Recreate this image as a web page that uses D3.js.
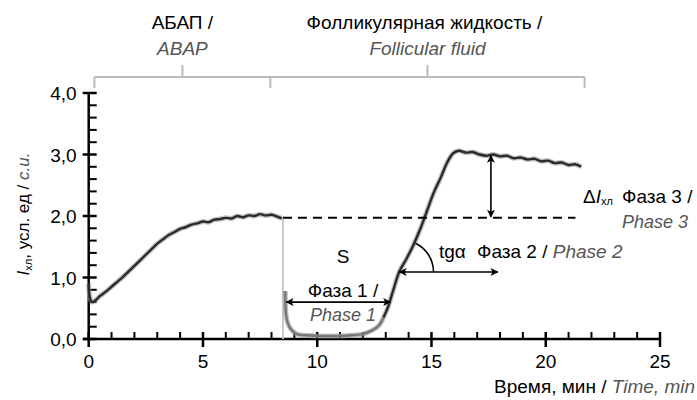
<!DOCTYPE html>
<html>
<head>
<meta charset="utf-8">
<script src="https://d3js.org/d3.v7.min.js"></script>
<style>
  body { margin: 0; background: #fff; }
  text { font-family: "Liberation Sans", Arial, sans-serif; }
</style>
</head>
<body>
<div id="chart"></div>
<script>
// ---------------------------//
//       DATA                 //
// ---------------------------//

// ABAP part of the record (time in min, chemiluminescence in c.u.)
var abapTime  = [0, 0.05, 0.15, 0.3, 0.5, 0.75, 1.0, 1.25, 1.5, 1.75, 2.0, 2.25, 2.5, 2.75, 3.0, 3.25, 3.5, 3.75, 4.0, 4.25, 4.5, 4.75, 5.0, 5.25, 5.5, 5.75, 6.0, 6.25, 6.5, 6.75, 7.0, 7.25, 7.5, 7.75, 8.0, 8.25, 8.45];
var abapValue = [0.9, 0.68, 0.6, 0.63, 0.7, 0.77, 0.85, 0.93, 1.01, 1.1, 1.19, 1.28, 1.37, 1.46, 1.55, 1.62, 1.69, 1.74, 1.79, 1.82, 1.86, 1.88, 1.91, 1.9, 1.94, 1.95, 1.97, 1.96, 2.0, 1.98, 2.01, 2.0, 2.03, 2.01, 2.02, 1.99, 1.96];

// follicular fluid part: phase 1 trough
var troughTime  = [8.6, 8.63, 8.7, 8.85, 9.1, 9.5, 10, 10.5, 11, 11.5, 12, 12.4, 12.7, 12.9];
var troughValue = [0.78, 0.42, 0.27, 0.16, 0.08, 0.06, 0.05, 0.05, 0.05, 0.06, 0.08, 0.14, 0.22, 0.35];

// follicular fluid part: phase 2 rise and phase 3 plateau
var riseTime  = [12.9, 13.1, 13.3, 13.6, 13.9, 14.2, 14.5, 14.8, 15.1, 15.4, 15.7, 15.95, 16.2, 16.5, 16.8, 17.1, 17.4, 17.7, 18.0, 18.3, 18.6, 18.9, 19.2, 19.5, 19.8, 20.1, 20.4, 20.7, 21.0, 21.3, 21.55];
var riseValue = [0.35, 0.52, 0.76, 1.1, 1.3, 1.52, 1.78, 2.08, 2.38, 2.62, 2.88, 3.02, 3.06, 3.03, 3.04, 3.0, 2.98, 3.0, 2.97, 2.98, 2.94, 2.95, 2.92, 2.93, 2.89, 2.9, 2.86, 2.87, 2.83, 2.84, 2.8];

// tick labels
var xTicks = [0, 5, 10, 15, 20, 25];
var yTicks = [0, 1, 2, 3, 4];

// annotation values (data units)
var dropTime = 8.5;          // switch from ABAP to fluid
var baseLevel = 1.97;        // dashed level
var baseLevelEnd = 21.3;
var deltaTime = 17.6;        // delta I arrow
var deltaTop = 3.0;
var phase1 = [8.65, 13.2], phase1Level = 0.6;
var phase2 = [13.6, 17.9], phase2Level = 1.09;
var bracketStops = [0.25, 7.95, 21.7];

// ---------------------------//
//       SVG  AND SCALE       //
// ---------------------------//
var W = 697, H = 400;
var svg = d3.select("#chart")
  .append("svg")
  .attr("width", W)
  .attr("height", H);

var x = d3.scaleLinear().domain([0, 25]).range([88.7, 660]);
var y = d3.scaleLinear().domain([0, 4]).range([339, 93]);

var gray = "#555";
var fs = "19px";

// arrow marker
var defs = svg.append("defs");
defs.append("marker")
  .attr("id", "arr")
  .attr("viewBox", "0 0 10 10")
  .attr("refX", 9).attr("refY", 5)
  .attr("markerWidth", 10).attr("markerHeight", 8)
  .attr("markerUnits", "userSpaceOnUse")
  .attr("orient", "auto-start-reverse")
  .append("path")
  .attr("d", "M0,0 L10,5 L0,10 L2.5,5 Z")
  .attr("fill", "#000");

defs.append("filter").attr("id", "soft")
  .append("feGaussianBlur").attr("stdDeviation", 0.7);

// ---------------------------//
//       AXES                 //
// ---------------------------//
var xAxisG = svg.append("g").attr("transform", "translate(0," + y(0) + ")");
xAxisG.append("line")
  .attr("x1", 83).attr("x2", x(25))
  .attr("stroke", "#000").attr("stroke-width", 2.5);
xAxisG.selectAll(".minor")
  .data(d3.range(1, 26).filter(function(d){ return d % 5 != 0; }))
  .enter().append("line")
  .attr("x1", function(d){ return x(d); }).attr("x2", function(d){ return x(d); })
  .attr("y1", -7).attr("y2", 0)
  .attr("stroke", "#000").attr("stroke-width", 2);
xAxisG.selectAll(".major")
  .data(xTicks)
  .enter().append("line")
  .attr("x1", function(d){ return x(d); }).attr("x2", function(d){ return x(d); })
  .attr("y1", -7).attr("y2", 8)
  .attr("stroke", "#000").attr("stroke-width", 2.5);
xAxisG.selectAll(".lab")
  .data(xTicks)
  .enter().append("text")
  .attr("x", function(d){ return x(d); })
  .attr("y", 29)
  .attr("text-anchor", "middle")
  .attr("font-size", fs)
  .text(function(d){ return d; });

var yAxisG = svg.append("g").attr("transform", "translate(" + x(0) + ",0)");
yAxisG.append("line")
  .attr("y1", y(0) + 1).attr("y2", y(4))
  .attr("stroke", "#000").attr("stroke-width", 2.5);
yAxisG.selectAll(".minor")
  .data(d3.range(1, 20).filter(function(d){ return d % 5 != 0; }).map(function(d){ return d / 5; }))
  .enter().append("line")
  .attr("y1", function(d){ return y(d); }).attr("y2", function(d){ return y(d); })
  .attr("x1", 0).attr("x2", 8)
  .attr("stroke", "#000").attr("stroke-width", 2);
yAxisG.selectAll(".major")
  .data(yTicks)
  .enter().append("line")
  .attr("y1", function(d){ return y(d); }).attr("y2", function(d){ return y(d); })
  .attr("x1", -6).attr("x2", 8)
  .attr("stroke", "#000").attr("stroke-width", 2.5);
yAxisG.selectAll(".lab")
  .data(yTicks)
  .enter().append("text")
  .attr("x", -12)
  .attr("y", function(d){ return y(d) + 7; })
  .attr("text-anchor", "end")
  .attr("font-size", fs)
  .text(function(d){ return d3.format(".1f")(d).replace(".", ","); });

// x label (kept inside the right edge)
var xl = svg.append("text")
  .attr("x", 695).attr("y", 393)
  .attr("text-anchor", "end")
  .attr("font-size", fs);
xl.append("tspan").text("Время, мин / ");
xl.append("tspan").attr("font-style", "italic").attr("fill", gray).text("Time, min");

// y label
var yl = svg.append("text")
  .attr("transform", "translate(29,214) rotate(-90)")
  .attr("text-anchor", "middle")
  .attr("font-size", "17px");
yl.append("tspan").attr("font-style", "italic").text("I");
yl.append("tspan").attr("font-size", "11px").attr("dy", 3).text("хл");
yl.append("tspan").attr("dy", -3).text(", усл. ед / ");
yl.append("tspan").attr("font-style", "italic").attr("fill", gray).text("c.u.");

// ---------------------------//
//       TOP BRACKET          //
// ---------------------------//
var bc = "#bbb", by = 77;
svg.append("line")
  .attr("x1", x(bracketStops[0])).attr("x2", x(bracketStops[2]))
  .attr("y1", by).attr("y2", by)
  .attr("stroke", bc).attr("stroke-width", 2);
svg.selectAll(".bdown")
  .data(bracketStops)
  .enter().append("line")
  .attr("x1", function(d){ return x(d); }).attr("x2", function(d){ return x(d); })
  .attr("y1", by).attr("y2", by + 11)
  .attr("stroke", bc).attr("stroke-width", 2);
svg.selectAll(".bup")
  .data([(bracketStops[0] + bracketStops[1]) / 2, (bracketStops[1] + bracketStops[2]) / 2])
  .enter().append("line")
  .attr("x1", function(d){ return x(d); }).attr("x2", function(d){ return x(d); })
  .attr("y1", by).attr("y2", by - 12)
  .attr("stroke", bc).attr("stroke-width", 2);

var mid1 = x((bracketStops[0] + bracketStops[1]) / 2);
var mid2 = x((bracketStops[1] + bracketStops[2]) / 2);
svg.append("text").attr("x", mid1).attr("y", 29).attr("text-anchor", "middle")
  .attr("font-size", fs).text("АБАП /");
svg.append("text").attr("x", mid1).attr("y", 55).attr("text-anchor", "middle")
  .attr("font-size", fs).attr("font-style", "italic").attr("fill", gray).text("ABAP");
svg.append("text").attr("x", mid2 - 3).attr("y", 29).attr("text-anchor", "middle")
  .attr("font-size", fs).text("Фолликулярная жидкость /");
svg.append("text").attr("x", mid2).attr("y", 55).attr("text-anchor", "middle")
  .attr("font-size", fs).attr("font-style", "italic").attr("fill", gray).text("Follicular fluid");

// ---------------------------//
//       CURVES               //
// ---------------------------//
var line = d3.line()
  .x(function(d){ return x(d[0]); })
  .y(function(d){ return y(d[1]); })
  .curve(d3.curveCatmullRom);

var abap = d3.zip(abapTime, abapValue);
var trough = d3.zip(troughTime, troughValue);
var rise = d3.zip(riseTime, riseValue);

// drop line
svg.append("line")
  .attr("x1", x(dropTime)).attr("x2", x(dropTime))
  .attr("y1", y(abapValue[abapValue.length - 1])).attr("y2", y(0))
  .attr("stroke", "#c8c8c8").attr("stroke-width", 2);

var curves = svg.append("g").attr("filter", "url(#soft)");
[[abap, "#2a2a2a"], [trough, "#777"], [rise, "#2a2a2a"]].forEach(function(s){
  curves.append("path")
    .attr("d", line(s[0]))
    .attr("fill", "none")
    .attr("stroke", "#999").attr("stroke-opacity", 0.6)
    .attr("stroke-width", 5);
  curves.append("path")
    .attr("d", line(s[0]))
    .attr("fill", "none")
    .attr("stroke", s[1])
    .attr("stroke-width", 2.4);
});

// ---------------------------//
//       ANNOTATIONS          //
// ---------------------------//
svg.append("line")
  .attr("x1", x(dropTime)).attr("x2", x(baseLevelEnd))
  .attr("y1", y(baseLevel)).attr("y2", y(baseLevel))
  .attr("stroke", "#000").attr("stroke-width", 2)
  .style("stroke-dasharray", "9,6");

// delta I
svg.append("line")
  .attr("x1", x(deltaTime)).attr("x2", x(deltaTime))
  .attr("y1", y(deltaTop) + 1).attr("y2", y(baseLevel) - 1)
  .attr("stroke", "#000").attr("stroke-width", 1.6)
  .attr("marker-start", "url(#arr)").attr("marker-end", "url(#arr)");

// phase 1
svg.append("line")
  .attr("x1", x(phase1[0])).attr("x2", x(phase1[1]))
  .attr("y1", y(phase1Level)).attr("y2", y(phase1Level))
  .attr("stroke", "#000").attr("stroke-width", 1.6)
  .attr("marker-start", "url(#arr)").attr("marker-end", "url(#arr)");

// phase 2
svg.append("line")
  .attr("x1", x(phase2[0])).attr("x2", x(phase2[1]))
  .attr("y1", y(phase2Level)).attr("y2", y(phase2Level))
  .attr("stroke", "#000").attr("stroke-width", 1.6)
  .attr("marker-start", "url(#arr)").attr("marker-end", "url(#arr)");

// tg alpha arc
var cx = x(phase2[0]) + 2, cy = y(phase2Level), r = 32;
var a0 = -64 * Math.PI / 180;
svg.append("path")
  .attr("d", "M" + (cx + r * Math.cos(a0)) + "," + (cy + r * Math.sin(a0)) +
             " A" + r + "," + r + " 0 0 1 " + (cx + r) + "," + cy)
  .attr("fill", "none").attr("stroke", "#000").attr("stroke-width", 1.5);

// texts
svg.append("text").attr("x", 343).attr("y", 263).attr("text-anchor", "middle")
  .attr("font-size", fs).text("S");
svg.append("text").attr("x", 343).attr("y", 297).attr("text-anchor", "middle")
  .attr("font-size", fs).text("Фаза 1 /");
svg.append("text").attr("x", 343).attr("y", 321).attr("text-anchor", "middle")
  .attr("font-size", "18px").attr("font-style", "italic").attr("fill", gray).text("Phase 1");

svg.append("text").attr("x", 439).attr("y", 258)
  .attr("font-size", fs).text("tgα");
var p2 = svg.append("text").attr("x", 477).attr("y", 258).attr("font-size", fs);
p2.append("tspan").text("Фаза 2 / ");
p2.append("tspan").attr("font-style", "italic").attr("fill", gray).text("Phase 2");

var dl = svg.append("text").attr("x", 583).attr("y", 203).attr("font-size", fs);
dl.append("tspan").text("Δ");
dl.append("tspan").attr("font-style", "italic").text("I");
dl.append("tspan").attr("font-size", "11px").attr("dy", 2).text("хл");
svg.append("text").attr("x", 622).attr("y", 203)
  .attr("font-size", fs).text("Фаза 3 /");
svg.append("text").attr("x", 622).attr("y", 228)
  .attr("font-size", "18px").attr("font-style", "italic").attr("fill", gray).text("Phase 3");
</script>
</body>
</html>
